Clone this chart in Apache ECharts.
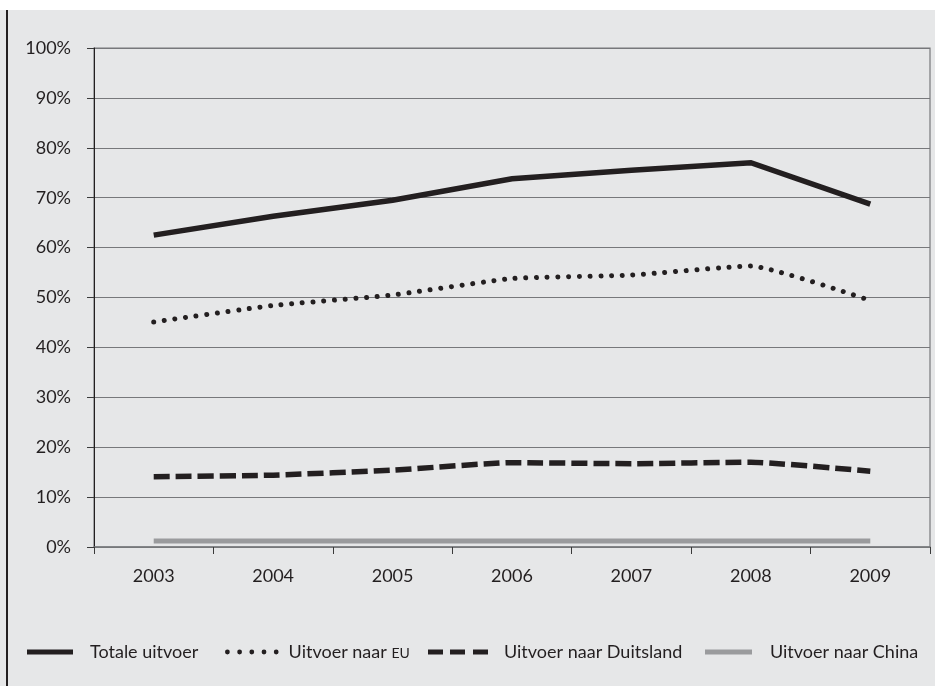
<!DOCTYPE html>
<html>
<head>
<meta charset="utf-8">
<script src="https://cdn.jsdelivr.net/npm/echarts@6/dist/echarts.min.js"></script>
<style>
  html, body { margin: 0; padding: 0; background: #ffffff; }
  #bg { position: absolute; left: 0; top: 10px; width: 935px; height: 676px; background: #e6e7e8; }
  #edge { position: absolute; left: 6px; top: 10px; width: 2px; height: 676px; background: #231f20; }
  #chart { position: absolute; left: 0; top: 0; width: 935px; height: 686px; }
</style>
</head>
<body>
<div id="bg"></div>
<div id="edge"></div>
<div id="chart"></div>
<script>
const years = ['2003', '2004', '2005', '2006', '2007', '2008', '2009'];
const totaleUitvoer = [62.5, 66.3, 69.5, 73.8, 75.5, 77.0, 68.7];
const uitvoerEU = [45.1, 48.4, 50.5, 53.8, 54.5, 56.3, 49.4];
const uitvoerDuitsland = [14.1, 14.4, 15.4, 16.9, 16.7, 17.0, 15.2];
const uitvoerChina = [1.2, 1.2, 1.2, 1.2, 1.2, 1.2, 1.2];
const seriesNames = ['Totale uitvoer', 'Uitvoer naar EU', 'Uitvoer naar Duitsland', 'Uitvoer naar China'];
const yTicks = [0, 100, 10];

const ink = '#231f20';
const grey = '#9a9b9d';
const gridGrey = '#77787b';
const font = 'Lato';
const fs = 18;

function legendFor(name, left, icon, w, h, pad, color) {
  return {
    data: [{ name: name, icon: icon, itemStyle: { color: color } }],
    left: left,
    top: 636,
    orient: 'horizontal',
    itemWidth: w,
    itemHeight: h,
    selectedMode: false,
    formatter: function (n) {
      if (n === 'Uitvoer naar EU') return '{s|}{t|Uitvoer naar }{e|EU}';
      return '{s|}{t|' + n + '}';
    },
    textStyle: {
      color: ink,
      fontFamily: font,
      fontSize: fs,
      lineHeight: 22,
      rich: {
        s: { width: pad },
        t: { color: ink, fontFamily: font, fontSize: fs, lineHeight: 22 },
        e: { color: ink, fontFamily: font, fontSize: 14, lineHeight: 22, verticalAlign: 'middle', padding: [3, 0, 0, 0] }
      }
    }
  };
}

const dotsPath = 'path://M0,2.4a2.4,2.4 0 1,0 4.8,0a2.4,2.4 0 1,0 -4.8,0Z M12.2,2.4a2.4,2.4 0 1,0 4.8,0a2.4,2.4 0 1,0 -4.8,0Z M24.4,2.4a2.4,2.4 0 1,0 4.8,0a2.4,2.4 0 1,0 -4.8,0Z M36.6,2.4a2.4,2.4 0 1,0 4.8,0a2.4,2.4 0 1,0 -4.8,0Z M48.8,2.4a2.4,2.4 0 1,0 4.8,0a2.4,2.4 0 1,0 -4.8,0Z';
const dashPath = 'path://M0,0H15V5H0Z M22,0H37V5H22Z M45,0H60V5H45Z';

const chart = echarts.init(document.getElementById('chart'), null, { renderer: 'canvas' });
chart.setOption({
  backgroundColor: 'transparent',
  animation: false,
  grid: {
    left: 94, right: 5, top: 48, bottom: 139,
    show: true, borderColor: gridGrey, borderWidth: 1.2, backgroundColor: 'transparent'
  },
  legend: [
    legendFor(seriesNames[0], 22, 'path://M0,0H46V5H0Z', 46, 5, 12, ink),
    legendFor(seriesNames[1], 220, dotsPath, 53.6, 4.8, 5, ink),
    legendFor(seriesNames[2], 423, dashPath, 60, 5, 11, ink),
    legendFor(seriesNames[3], 700, 'path://M0,0H47V5H0Z', 47, 5, 13, grey)
  ],
  xAxis: {
    type: 'category',
    data: years,
    boundaryGap: true,
    axisLine: { show: true, lineStyle: { color: gridGrey, width: 1.5 } },
    axisTick: { show: true, length: 7, lineStyle: { color: '#3a3a3a', width: 1 } },
    axisLabel: { color: ink, fontFamily: font, fontSize: fs, margin: 20 },
    splitLine: { show: false }
  },
  yAxis: {
    type: 'value',
    min: yTicks[0], max: yTicks[1], interval: yTicks[2],
    axisLine: { show: true, lineStyle: { color: ink, width: 1 } },
    axisTick: { show: true, length: 7, lineStyle: { color: '#3a3a3a', width: 1 } },
    axisLabel: { color: ink, fontFamily: font, fontSize: fs, margin: 23, formatter: '{value}%' },
    splitLine: { show: true, lineStyle: { color: gridGrey, width: 1.2 } }
  },
  series: [
    {
      name: seriesNames[0], type: 'line', data: totaleUitvoer,
      symbol: 'none', color: ink,
      lineStyle: { color: ink, width: 5.5, join: 'miter' }
    },
    {
      name: seriesNames[1], type: 'line', data: uitvoerEU,
      symbol: 'none', color: ink, smooth: 0.15,
      lineStyle: { color: ink, width: 5, type: [0.01, 10.7], cap: 'round' }
    },
    {
      name: seriesNames[2], type: 'line', data: uitvoerDuitsland,
      symbol: 'none', color: ink, smooth: 0.15,
      lineStyle: { color: ink, width: 5.5, type: [16, 6], cap: 'butt' }
    },
    {
      name: seriesNames[3], type: 'line', data: uitvoerChina,
      symbol: 'none', color: grey,
      lineStyle: { color: grey, width: 5 }
    }
  ]
});
</script>
</body>
</html>
